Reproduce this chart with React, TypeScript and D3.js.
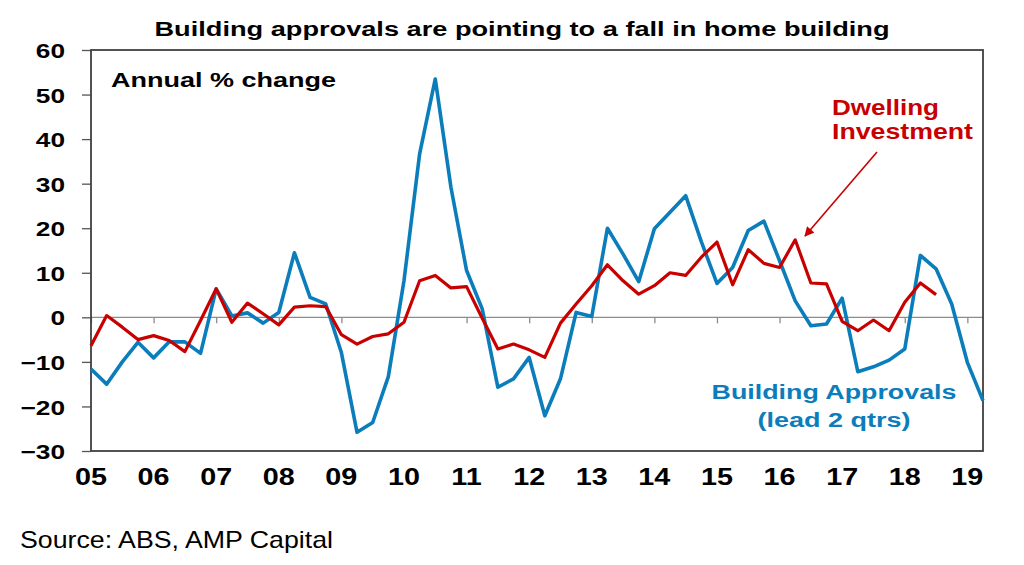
import * as d3 from "d3";
import React, { useEffect, useRef } from "react";

// quarterly, 2005Q1 .. 2019Q2 (approvals led 2 quarters)
const approvals = [
  -11.6, -15.0, -10.0, -5.6, -9.1, -5.5, -5.5, -8.1, 6.4, 0.3, 1.0, -1.3, 1.1,
  14.5, 4.5, 3.0, -7.9, -25.8, -23.6, -13.3, 8.2, 36.7, 53.5, 29.2, 10.5, 1.9,
  -15.7, -13.8, -9.0, -22.1, -13.8, 1.1, 0.2, 20.0, 14.2, 8.0, 19.9, 23.6, 27.3,
  17.0, 7.6, 11.2, 19.5, 21.6, 12.7, 3.7, -1.9, -1.5, 4.3, -12.2, -11.1, -9.6,
  -7.1, 13.9, 10.9, 3.0, -10.1, -18.7,
];

// quarterly, 2005Q1 .. 2018Q3
const dwelling = [
  -6.4, 0.4, -2.2, -5.0, -4.1, -5.2, -7.7, -0.7, 6.4, -1.1, 3.2, 0.8, -1.7, 2.3,
  2.6, 2.4, -3.9, -6.0, -4.3, -3.7, -1.1, 8.2, 9.4, 6.6, 6.9, -0.2, -7.1, -6.0,
  -7.3, -9.0, -1.3, 3.0, 7.1, 11.8, 8.2, 5.2, 7.1, 10.0, 9.4, 13.5, 16.9, 7.3,
  15.2, 12.1, 11.2, 17.4, 7.7, 7.5, -0.9, -3.0, -0.6, -3.0, 3.4, 7.7, 5.1,
];

const yearLabels = ["05", "06", "07", "08", "09", "10", "11", "12", "13", "14", "15", "16", "17", "18", "19"];
const yTicks = [-30, -20, -10, 0, 10, 20, 30, 40, 50, 60];

const BLUE = "#0b7dbb";
const RED = "#c80000";
const FONT = "'Liberation Sans', Arial, sans-serif";

const App: React.FC = () => {
  const svgRef = useRef<SVGSVGElement | null>(null);

  useEffect(() => {
    if (!svgRef.current) return;
    const svg = d3.select(svgRef.current);
    svg.selectAll("*").remove();

    const width = 1024;
    const height = 565;
    const margin = { top: 50, right: 41, bottom: 114, left: 91 };

    const x = d3
      .scaleLinear()
      .domain([0, approvals.length - 1])
      .range([margin.left, width - margin.right]);

    const y = d3
      .scaleLinear()
      .domain([-30, 60])
      .range([height - margin.bottom, margin.top]);

    // stretch text horizontally like the original slide image
    const stretch = (sel: d3.Selection<any, any, any, any>, k: number) => {
      sel.each(function () {
        const t = this as SVGTextElement;
        const w = t.getComputedTextLength();
        d3.select(t).attr("textLength", w * k).attr("lengthAdjust", "spacingAndGlyphs");
      });
    };

    // zero line
    svg
      .append("line")
      .attr("x1", margin.left)
      .attr("x2", width - margin.right)
      .attr("y1", y(0))
      .attr("y2", y(0))
      .attr("stroke", "#8c8c8c")
      .attr("stroke-width", 1.3);

    // year ticks on zero line
    const yearTicks = yearLabels.map((_, i) => i * 4);
    svg
      .append("g")
      .attr("transform", `translate(0,${y(0)})`)
      .call(d3.axisBottom(x).tickValues(yearTicks).tickSize(6).tickFormat(() => "" as any))
      .call((g) => g.select(".domain").remove())
      .selectAll("line")
      .attr("stroke", "#8c8c8c")
      .attr("stroke-width", 1.3);

    // year labels
    const xl = svg
      .append("g")
      .selectAll("text")
      .data(yearLabels)
      .enter()
      .append("text")
      .attr("x", (_, i) => x(i * 4))
      .attr("y", 485)
      .attr("text-anchor", "middle")
      .attr("font-family", FONT)
      .attr("font-weight", "bold")
      .attr("font-size", 23)
      .attr("fill", "#000")
      .text((d) => d);
    stretch(xl, 1.25);

    // y axis
    const yAxis = svg
      .append("g")
      .attr("transform", `translate(${margin.left},0)`)
      .call(d3.axisLeft(y).tickValues(yTicks).tickSize(9).tickPadding(17));
    yAxis.select(".domain").remove();
    yAxis.selectAll("line").attr("stroke", "#555").attr("stroke-width", 1.3);
    const yl = yAxis
      .selectAll("text")
      .attr("font-family", FONT)
      .attr("font-weight", "bold")
      .attr("font-size", 21)
      .attr("fill", "#000")
      .attr("dy", "0.36em");
    stretch(yl as any, 1.25);

    // frame
    svg
      .append("rect")
      .attr("x", margin.left)
      .attr("y", margin.top)
      .attr("width", width - margin.left - margin.right)
      .attr("height", height - margin.top - margin.bottom)
      .attr("fill", "none")
      .attr("stroke", "#404040")
      .attr("stroke-width", 1.8);

    const line = d3
      .line<number>()
      .x((_, i) => x(i))
      .y((d) => y(d));

    svg
      .append("path")
      .datum(approvals)
      .attr("fill", "none")
      .attr("stroke", BLUE)
      .attr("stroke-width", 3.6)
      .attr("stroke-linejoin", "round")
      .attr("d", line);

    svg
      .append("path")
      .datum(dwelling)
      .attr("fill", "none")
      .attr("stroke", RED)
      .attr("stroke-width", 3.2)
      .attr("stroke-linejoin", "round")
      .attr("d", line);

    // arrow
    const defs = svg.append("defs");
    defs
      .append("marker")
      .attr("id", "arrowhead")
      .attr("viewBox", "0 0 10 10")
      .attr("refX", 9)
      .attr("refY", 5)
      .attr("markerWidth", 7)
      .attr("markerHeight", 6)
      .attr("orient", "auto")
      .append("path")
      .attr("d", "M0,0 L10,5 L0,10 z")
      .attr("fill", RED);

    svg
      .append("line")
      .attr("x1", 877)
      .attr("y1", 152)
      .attr("x2", 805)
      .attr("y2", 236)
      .attr("stroke", RED)
      .attr("stroke-width", 1.6)
      .attr("marker-end", "url(#arrowhead)");

    const label = (
      txt: string,
      tx: number,
      ty: number,
      size: number,
      color: string,
      w: number,
      anchor = "start",
      weight = "bold"
    ) => {
      svg
        .append("text")
        .attr("x", tx)
        .attr("y", ty)
        .attr("text-anchor", anchor)
        .attr("font-family", FONT)
        .attr("font-weight", weight)
        .attr("font-size", size)
        .attr("fill", color)
        .attr("textLength", w)
        .attr("lengthAdjust", "spacingAndGlyphs")
        .text(txt);
    };

    // === Title and annotations ===
    label("Building approvals are pointing to a fall in home building", 522, 36, 20, "#000", 735, "middle");
    label("Annual % change", 111, 87, 21, "#000", 225);
    label("Dwelling", 832, 115, 22, RED, 107);
    label("Investment", 832, 139, 22, RED, 141);
    label("Building Approvals", 834, 399, 20, BLUE, 245, "middle");
    label("(lead 2 qtrs)", 834, 427, 20, BLUE, 153, "middle");
    label("Source: ABS, AMP Capital", 20, 548, 24, "#000", 313, "start", "normal");
  }, []);

  return (
    <svg
      ref={svgRef}
      width={1024}
      height={565}
      style={{ position: "absolute", left: 0, top: 0, background: "#fff" }}
    ></svg>
  );
};

export default App;
